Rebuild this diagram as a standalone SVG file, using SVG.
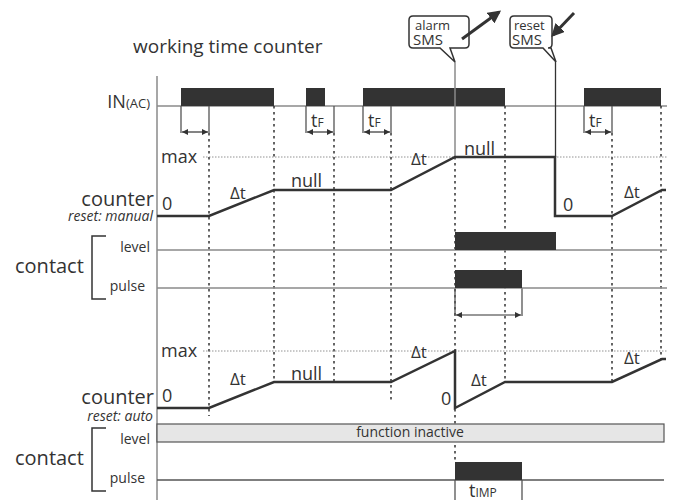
<svg xmlns="http://www.w3.org/2000/svg" width="674" height="500" viewBox="0 0 674 500">
<defs>
<marker id="ah" viewBox="0 0 10 10" refX="10" refY="5" markerWidth="8" markerHeight="6" markerUnits="userSpaceOnUse" orient="auto-start-reverse"><path d="M0,0 L10,5 L0,10 Z" fill="#333"/></marker>
<marker id="bh" viewBox="0 0 10 10" refX="8" refY="5" markerWidth="13" markerHeight="13" markerUnits="userSpaceOnUse" orient="auto"><path d="M0,0 L10,5 L0,10 Z" fill="#333"/></marker>
<style>
text{font-family:"Open Sans","DejaVu Sans",sans-serif;fill:#333}
.lbl{font-size:20px}
.sm{font-size:14px}
.it{font-size:14px;font-style:italic}
.dot{stroke:#333;stroke-width:1.5;stroke-dasharray:2.5 3.5;fill:none}
.max{stroke:#777;stroke-width:0.8;stroke-dasharray:1.5 1.5;fill:none}
.gl{stroke:#8a8a8a;stroke-width:1.5;fill:none}
.dl{stroke:#555;stroke-width:1.3;fill:none}
.tick{stroke:#555;stroke-width:1.3;fill:none}
.dbl{stroke:#333;stroke-width:1.2;fill:none;marker-start:url(#ah);marker-end:url(#ah)}
.bar{fill:#333}
.wave{stroke:#333;stroke-width:2.5;fill:none;stroke-linejoin:miter}
.bub{fill:#fff;stroke:#333;stroke-width:1.5}
.arr{stroke:#333;stroke-width:3;fill:none;marker-end:url(#bh)}
</style>
</defs>

<g id="title"><text x="133" y="53" font-size="19">working time counter</text></g>

<g id="axis"><line class="gl" x1="157" y1="76" x2="157" y2="500"/></g>

<g id="in-ac">
<text x="150" y="108" text-anchor="end"><tspan font-size="18">IN</tspan><tspan font-size="13">(AC)</tspan></text>
<line class="gl" x1="157" y1="106" x2="667" y2="106"/>
<rect class="bar" x="181" y="88" width="93" height="18"/>
<rect class="bar" x="306" y="88" width="19" height="18"/>
<rect class="bar" x="363" y="88" width="142" height="18"/>
<rect class="bar" x="584" y="88" width="77" height="18"/>
</g>

<g id="connectors">
<path class="tick" d="M181,106V133M209,106V133M306,106V133M334,106V133M363,106V133M391,106V133M584,106V133M612,106V133"/>
<line class="dbl" x1="182" y1="132" x2="208" y2="132"/>
<line class="dbl" x1="307" y1="132" x2="333" y2="132"/>
<line class="dbl" x1="364" y1="132" x2="390" y2="132"/>
<line class="dbl" x1="585" y1="132" x2="611" y2="132"/>
<path class="dot" d="M209,133V416M274,106V382M334,133V382M391,133V401M455,157V462M505,106V382M612,133V382M661,106V359"/>
<line class="max" x1="203" y1="157" x2="667" y2="157"/>
<line class="max" x1="203" y1="351" x2="667" y2="351"/>
<line class="gl" x1="455" y1="62" x2="455" y2="157"/>
<line stroke="#333" stroke-width="1.3" x1="555.5" y1="62" x2="555.5" y2="157"/>
<path class="tick" d="M455,288V316M522,288V316M455,480V500M522,480V500"/>
<line class="dbl" x1="456" y1="315" x2="521" y2="315"/>
</g>

<g id="alarm-sms">
<path class="bub" d="M413,16H465Q469,16 469,20V44Q469,48 465,48H450L455,62L440,48H413Q409,48 409,44V20Q409,16 413,16Z"/>
<text x="415" y="30" font-size="13">alarm</text>
<text x="413" y="45" font-size="15">SMS</text>
<line class="arr" x1="462" y1="39" x2="499" y2="12"/>
</g>

<g id="reset-sms">
<path class="bub" d="M514,16H548Q552,16 552,20V44Q552,48 548,48H551L556,62L543,48H514Q510,48 510,44V20Q510,16 514,16Z"/>
<text x="514" y="30" font-size="13">reset</text>
<text x="512" y="45" font-size="15">SMS</text>
<line class="arr" x1="574" y1="13" x2="553" y2="35"/>
</g>

<g id="counter-manual">
<text class="lbl" x="154" y="206" text-anchor="end">counter</text>
<text class="it" x="153" y="221" text-anchor="end">reset: manual</text>
<text x="161" y="163" font-size="18">max</text>
<text x="162" y="210" font-size="18">0</text>
<text x="230" y="199" font-size="17">Δt</text>
<text x="291" y="187" font-size="18">null</text>
<text x="411" y="165" font-size="17">Δt</text>
<text x="464" y="155" font-size="18">null</text>
<text x="563" y="211" font-size="18">0</text>
<text x="624" y="198" font-size="17">Δt</text>
<path class="wave" d="M157,216H209L274,190H391L455,157H555V216H612L662,190H666"/>
</g>

<g id="contact-manual">
<text class="lbl" x="15" y="273">contact</text>
<path d="M106,236H92V299H106" stroke="#333" stroke-width="1.5" fill="none"/>
<text class="sm" x="150" y="252" text-anchor="end">level</text>
<text class="sm" x="145" y="291" text-anchor="end">pulse</text>
<line class="gl" x1="157" y1="250" x2="667" y2="250"/>
<line class="gl" x1="157" y1="288" x2="667" y2="288"/>
<rect class="bar" x="455" y="232" width="101" height="18"/>
<rect class="bar" x="455" y="270" width="67" height="18"/>
</g>

<g id="counter-auto">
<text class="lbl" x="154" y="404" text-anchor="end">counter</text>
<text class="it" x="153" y="421" text-anchor="end">reset: auto</text>
<text x="161" y="357" font-size="18">max</text>
<text x="162" y="402" font-size="18">0</text>
<text x="230" y="385" font-size="17">Δt</text>
<text x="291" y="380" font-size="18">null</text>
<text x="411" y="358" font-size="17">Δt</text>
<text x="441" y="405" font-size="18">0</text>
<text x="471" y="386" font-size="17">Δt</text>
<text x="624" y="364" font-size="17">Δt</text>
<path class="wave" d="M157,408H209L274,382H391L455,351V408L505,382H612L662,359H666"/>
</g>

<g id="contact-auto">
<text class="lbl" x="15" y="465">contact</text>
<path d="M106,428H92V491H106" stroke="#333" stroke-width="1.5" fill="none"/>
<text class="sm" x="150" y="444" text-anchor="end">level</text>
<text class="sm" x="145" y="483" text-anchor="end">pulse</text>
<rect x="157" y="424" width="507" height="18" fill="#e6e6e6" stroke="#555" stroke-width="1.2"/>
<text class="sm" x="410" y="437" text-anchor="middle">function inactive</text>
<line class="dl" x1="157" y1="480" x2="664" y2="480"/>
<rect class="bar" x="455" y="462" width="67" height="18"/>
<text x="469" y="497"><tspan font-size="18">t</tspan><tspan font-size="12">IMP</tspan></text>
</g>

<g id="tf-labels">
<text x="311" y="127"><tspan font-size="18">t</tspan><tspan font-size="12">F</tspan></text>
<text x="368" y="127"><tspan font-size="18">t</tspan><tspan font-size="12">F</tspan></text>
<text x="589" y="127"><tspan font-size="18">t</tspan><tspan font-size="12">F</tspan></text>
</g>
</svg>
